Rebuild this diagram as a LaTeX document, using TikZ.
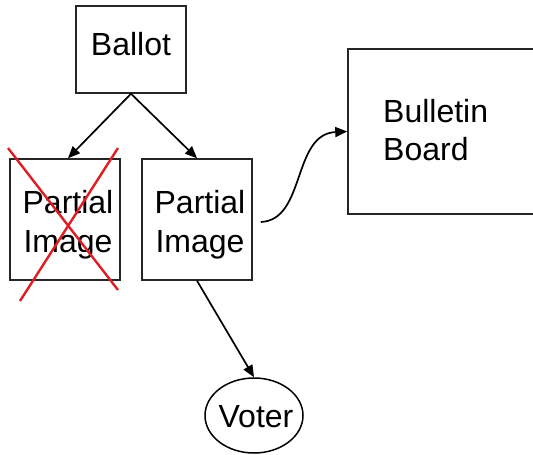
\documentclass[tikz,border=0pt]{standalone}
\usepackage{fontspec}
\setmainfont{Liberation Sans}
\usetikzlibrary{arrows.meta,shapes.geometric}
\definecolor{crossred}{RGB}{222,30,36}
\tikzset{
  box/.style={draw=black!85, line width=1.5pt, rectangle, inner sep=0pt},
  lbl/.style={anchor=base, inner sep=0pt, font=\fontsize{32}{39}\selectfont},
  arr/.style={draw=black, line width=1.7pt, -{Triangle[length=12pt,width=10pt]}},
  cross/.style={draw=crossred, line width=2.4pt}
}
\begin{document}
\begin{tikzpicture}[x=1pt,y=-1pt]
  \useasboundingbox (0,0) rectangle (533,455);
  \clip (0,0) rectangle (533,455);
  \fill[white] (0,0) rectangle (533,455);

  % boxes
  \node[box, minimum width=110pt, minimum height=87pt] (ballot) at (131,49.5) {};
  \node[box, minimum width=110pt, minimum height=121pt] (pl) at (65,219.5) {};
  \node[box, minimum width=110pt, minimum height=121pt] (pr) at (197,219.5) {};
  \node[box, minimum width=222pt, minimum height=165pt] (bb) at (459,131.5) {};
  \node[draw=black, line width=1.5pt, ellipse, minimum width=98pt, minimum height=75pt, inner sep=0pt] (voter) at (254,415.5) {};

  % labels
  \node[lbl] (ballottxt) at (131,55) {Ballot};
  \node[lbl] (pltxta) at (68,213) {Partial};
  \node[lbl] (pltxtb) at (68,252) {Image};
  \node[lbl] (prtxta) at (200,213) {Partial};
  \node[lbl] (prtxtb) at (200,252) {Image};
  \node[lbl, anchor=base west] (bbtxta) at (383,122) {Bulletin};
  \node[lbl, anchor=base west] (bbtxtb) at (383,160) {Board};
  \node[lbl] (votertxt) at (256,427) {Voter};

  % red cross over the discarded image
  \coordinate (xa) at (8,148);
  \coordinate (xb) at (118,290);
  \coordinate (xc) at (118,148);
  \coordinate (xd) at (20,301);
  \draw[cross] (xa) -- (xb);
  \draw[cross] (xc) -- (xd);

  % connectors
  \draw[arr] (ballot.south) -- ([xshift=3pt]pl.north);
  \draw[arr] (ballot.south) -- (pr.north);
  \draw[arr] (pr.south) -- (voter.north);
  \coordinate (cstart) at ([xshift=8pt,yshift=-2.5pt]pr.east);
  \draw[arr] (cstart) .. controls (306,220) and (292,134) .. (bb.west);
\end{tikzpicture}
\end{document}
